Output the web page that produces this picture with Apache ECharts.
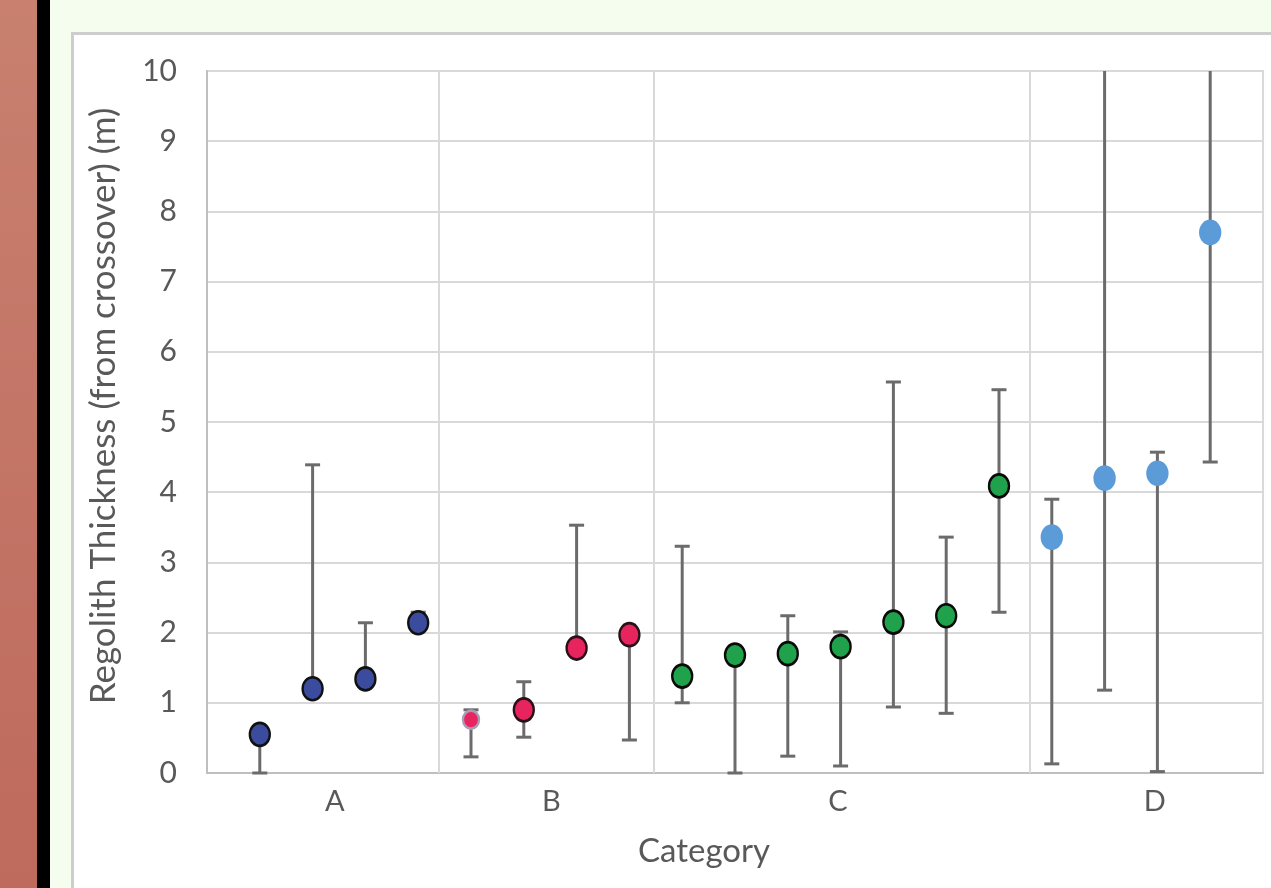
<!DOCTYPE html>
<html>
<head>
<meta charset="utf-8">
<script src="https://cdn.jsdelivr.net/npm/echarts@6/dist/echarts.min.js"></script>
<style>
  html, body { margin: 0; padding: 0; width: 1271px; height: 888px; overflow: hidden; background: #f5fdee; }
  #strip { position: absolute; left: 0; top: 0; width: 37px; height: 888px; background: linear-gradient(#c8806f, #be6a5d); }
  #black { position: absolute; left: 37px; top: 0; width: 13px; height: 888px; background: #000; }
  #panel { position: absolute; left: 71px; top: 32px; width: 1210px; height: 870px; background: #fff; border: 3px solid #cdcdcd; box-sizing: border-box; }
  #chart { position: absolute; left: 0; top: 0; width: 1271px; height: 888px; }
</style>
</head>
<body>
<div id="strip"></div>
<div id="black"></div>
<div id="panel"></div>
<div id="chart"></div>
<script>
// ---- data ----
const categories = ['A', 'B', 'C', 'D'];
const categoryLabelPos = [2.42, 6.52, 11.95, 17.95];
const categoryBoundaries = [4.375, 8.47, 15.59];

const xA = [1, 2, 3, 4];
const valA = [0.55, 1.2, 1.34, 2.14];
const lowA = [0, 1.2, 1.34, 2.14];
const highA = [0.55, 4.39, 2.14, 2.29];

const xB = [5, 6, 7, 8];
const valB = [0.76, 0.9, 1.78, 1.97];
const lowB = [0.23, 0.51, 1.78, 0.47];
const highB = [0.9, 1.3, 3.53, 1.97];

const xC = [9, 10, 11, 12, 13, 14, 15];
const valC = [1.38, 1.68, 1.7, 1.8, 2.15, 2.24, 4.09];
const lowC = [1.0, 0, 0.24, 0.1, 0.94, 0.85, 2.29];
const highC = [3.23, 1.68, 2.24, 2.01, 5.57, 3.36, 5.46];

const xD = [16, 17, 18, 19];
const valD = [3.36, 4.2, 4.27, 7.7];
const lowD = [0.13, 1.18, 0.02, 4.43];
const highD = [3.9, 11, 4.57, 11];

const yTicks = [0, 1, 2, 3, 4, 5, 6, 7, 8, 9, 10];

// ---- build ----
const FONT = 'Lato';
const YMAX = 10;
const groups = [
  { name: 'A', x: xA, v: valA, lo: lowA, hi: highA, color: '#3b4c9e', border: '#111' },
  { name: 'B', x: xB, v: valB, lo: lowB, hi: highB, color: '#e8245f', border: '#2a1018' },
  { name: 'C', x: xC, v: valC, lo: lowC, hi: highC, color: '#1fa24b', border: '#0a0a0a' },
  { name: 'D', x: xD, v: valD, lo: lowD, hi: highD, color: '#5b9bd8', border: '#5b9bd8' }
];

const errData = [];
groups.forEach(g => g.x.forEach((x, i) => errData.push([x, g.lo[i], g.hi[i]])));

const series = [];
series.push({
  type: 'custom',
  name: 'err',
  z: 2,
  silent: true,
  data: errData,
  encode: { x: 0, y: [1, 2] },
  renderItem: function (params, api) {
    const x = api.value(0), lo = api.value(1), hi = api.value(2);
    const top = api.coord([x, Math.min(hi, YMAX)]);
    const bot = api.coord([x, lo]);
    const cap = 7.5;
    const style = { stroke: '#6b6b6b', lineWidth: 3 };
    const children = [
      { type: 'line', shape: { x1: top[0], y1: top[1], x2: bot[0], y2: bot[1] }, style: style }
    ];
    if (hi <= YMAX) children.push({ type: 'line', shape: { x1: top[0] - cap, y1: top[1], x2: top[0] + cap, y2: top[1] }, style: style });
    children.push({ type: 'line', shape: { x1: bot[0] - cap, y1: bot[1], x2: bot[0] + cap, y2: bot[1] }, style: style });
    return { type: 'group', children: children };
  },
  markLine: {
    silent: true,
    symbol: 'none',
    label: { show: false },
    lineStyle: { color: '#d9d9d9', width: 2, type: 'solid' },
    data: categoryBoundaries.map(b => ({ xAxis: b }))
  }
});

groups.forEach(g => {
  series.push({
    type: 'scatter',
    name: g.name,
    z: 5,
    symbol: 'circle',
    symbolSize: [20, 23],
    itemStyle: { color: g.color, borderColor: g.border, borderWidth: 2.5, opacity: 1 },
    data: g.x.map((x, i) => {
      const item = { value: [x, g.v[i]] };
      if (g.name === 'B' && i === 0) {
        item.symbolSize = [16, 18];
        item.itemStyle = { borderColor: '#a99bb5', borderWidth: 2.5 };
      }
      return item;
    })
  });
});

const chart = echarts.init(document.getElementById('chart'));
chart.setOption({
  animation: false,
  backgroundColor: 'transparent',
  grid: { left: 207, right: 8, top: 71, bottom: 115, show: true, borderColor: '#d9d9d9', borderWidth: 2 },
  xAxis: {
    type: 'value',
    min: 0, max: 20,
    name: 'Category',
    nameLocation: 'middle',
    nameGap: 62,
    nameTextStyle: { fontFamily: FONT, fontSize: 33, color: '#595959', padding: [0, 62, 0, 0] },
    axisLine: { show: true, onZero: false, lineStyle: { color: '#bfbfbf', width: 2 } },
    axisTick: { show: false },
    splitLine: { show: false },
    axisLabel: {
      customValues: categoryLabelPos,
      formatter: function (v) {
        const idx = categoryLabelPos.indexOf(v);
        return idx >= 0 ? categories[idx] : '';
      },
      fontFamily: FONT, fontSize: 29, color: '#595959', margin: 14
    }
  },
  yAxis: {
    type: 'value',
    min: 0, max: 10, interval: 1,
    name: 'Regolith Thickness (from crossover) (m)',
    nameLocation: 'middle',
    nameGap: 86,
    nameTextStyle: { fontFamily: FONT, fontSize: 35, color: '#595959', padding: [0, 0, 0, 32] },
    axisLine: { show: true, lineStyle: { color: '#bfbfbf', width: 2 } },
    axisTick: { show: false },
    splitLine: { show: true, lineStyle: { color: '#d9d9d9', width: 2 } },
    axisLabel: {
      formatter: function (v) { return yTicks.indexOf(v) >= 0 ? String(v) : ''; },
      fontFamily: FONT, fontSize: 30, color: '#595959', margin: 30
    }
  },
  series: series
});
</script>
</body>
</html>
